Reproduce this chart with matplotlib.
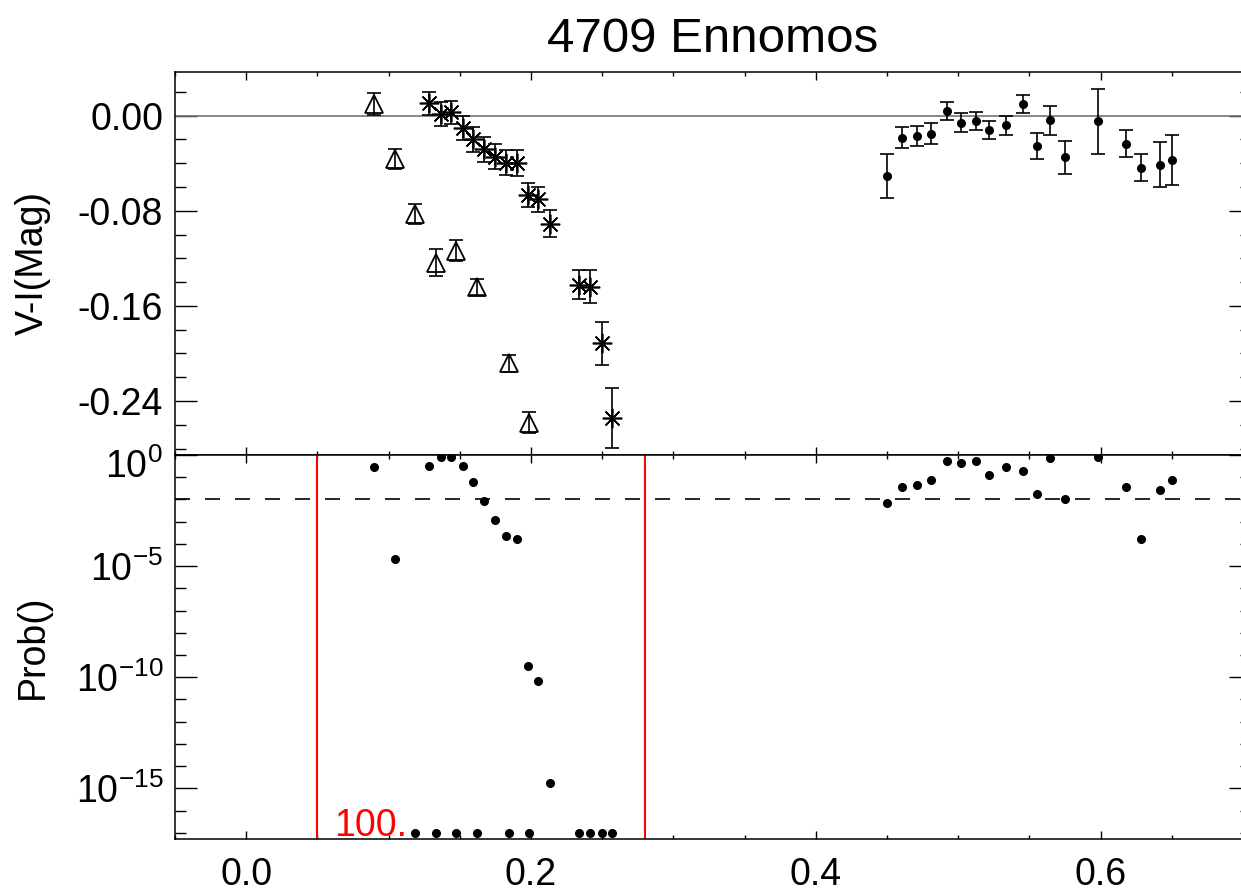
import numpy as np
import matplotlib.pyplot as plt
from matplotlib.ticker import (FixedLocator, MultipleLocator, FuncFormatter,
                               FormatStrFormatter, NullFormatter)

plt.rcParams['font.family'] = ['Liberation Sans', 'DejaVu Sans']
plt.rcParams['mathtext.fontset'] = 'custom'
plt.rcParams['mathtext.rm'] = 'Liberation Sans'
plt.rcParams['mathtext.default'] = 'regular'
plt.rcParams['axes.unicode_minus'] = False

# triangles (open)
tri_phase = [0.0895, 0.1043, 0.1186, 0.1331, 0.1471, 0.1619, 0.1843, 0.1986]
tri_vi = [0.0100, -0.0366, -0.0829, -0.1236, -0.1134, -0.1441, -0.2084, -0.2582]
tri_err = [0.0094, 0.0086, 0.0084, 0.0112, 0.0088, 0.0067, 0.0074, 0.0087]
tri_prob = [0.28, 2.2e-5, 1e-17, 1e-17, 1e-17, 1e-17, 1e-17, 1e-17]

# asterisks
ast_phase = [0.1284, 0.1368, 0.1436, 0.1523, 0.1595, 0.1670, 0.1750, 0.1827,
             0.1900, 0.1977, 0.2052, 0.2131, 0.2340, 0.2417, 0.2496, 0.2571]
ast_vi = [0.0104, 0.0016, 0.0028, -0.0103, -0.0199, -0.0281, -0.0344, -0.0394,
          -0.0399, -0.0667, -0.0702, -0.0909, -0.1420, -0.1438, -0.1914, -0.2545]
ast_err = [0.0098, 0.0102, 0.0098, 0.0101, 0.0104, 0.0105, 0.0107, 0.0108,
           0.0108, 0.0104, 0.0105, 0.0114, 0.0122, 0.0140, 0.0182, 0.0252]
ast_prob = [0.33, 0.84, 0.79, 0.32, 0.059, 8.5e-3, 1.2e-3, 2.3e-4,
            1.7e-4, 3.3e-10, 6.8e-11, 1.8e-15, 1e-17, 1e-17, 1e-17, 1e-17]

# filled dots
dot_phase = [0.4500, 0.4608, 0.4709, 0.4809, 0.4919, 0.5020, 0.5123, 0.5219, 0.5334,
             0.5455, 0.5554, 0.5647, 0.5750, 0.5984, 0.6181, 0.6284, 0.6415, 0.6504]
dot_vi = [-0.0505, -0.0186, -0.0169, -0.0151, 0.0041, -0.0059, -0.0043, -0.0122, -0.0082,
          0.0098, -0.0256, -0.0038, -0.0349, -0.0047, -0.0235, -0.0437, -0.0412, -0.0375]
dot_err = [0.0185, 0.0088, 0.0085, 0.0087, 0.0077, 0.0078, 0.0077, 0.0077, 0.0080,
           0.0078, 0.0111, 0.0122, 0.0139, 0.0275, 0.0112, 0.0115, 0.0188, 0.0210]
dot_prob = [6.8e-3, 0.035, 0.046, 0.072, 0.55, 0.45, 0.55, 0.12, 0.29,
            0.19, 0.018, 0.73, 0.011, 0.84, 0.035, 1.7e-4, 0.028, 0.072]

red_lines = [0.05, 0.28]
prob_cut = 1e-2

fig = plt.figure(figsize=(12.41, 8.92), dpi=100)
ax1 = fig.add_axes([0.141, 0.4899, 0.8671, 0.4297])
ax2 = fig.add_axes([0.141, 0.0591, 0.8671, 0.4308])

ebkw = dict(fmt='none', ecolor='k', elinewidth=1.2, capsize=4.7, capthick=1.2)

# top panel
ax1.axhline(0, color='0.45', lw=1.2)
ax1.errorbar(tri_phase, tri_vi, yerr=tri_err, **ebkw)
ax1.errorbar(ast_phase, ast_vi, yerr=ast_err, **ebkw)
ax1.errorbar(dot_phase, dot_vi, yerr=dot_err, **ebkw)
ax1.plot(tri_phase, tri_vi, '^', ms=13, mfc='none', mec='k', mew=1.3)
ax1.plot(ast_phase, ast_vi, ls='none', marker=(8, 2, 0), ms=14, mec='k', mew=1.2)
ax1.plot(dot_phase, dot_vi, 'o', ms=5.5, color='k')
ax1.set_ylim(-0.2854, 0.0370)
ax1.set_title('4709 Ennomos', fontsize=35.5, pad=14.2)
ax1.set_ylabel('V-I(Mag)', fontsize=27)
ax1.yaxis.set_major_locator(FixedLocator([0.0, -0.08, -0.16, -0.24]))
ax1.yaxis.set_minor_locator(MultipleLocator(0.02))
ax1.yaxis.set_major_formatter(FormatStrFormatter('%.2f'))

# bottom panel
ax2.set_yscale('log')
for xv in red_lines:
    ax2.axvline(xv, color='red', lw=1.5)
ax2.axhline(prob_cut, color='k', lw=1.2, dashes=(9, 9))
ax2.plot(tri_phase, tri_prob, 'o', ms=5.5, color='k')
ax2.plot(ast_phase, ast_prob, 'o', ms=5.5, color='k')
ax2.plot(dot_phase, dot_prob, 'o', ms=5.5, color='k')
ax2.set_ylim(10 ** -17.29, 1)
ax2.set_ylabel('Prob()', fontsize=27)
ax2.yaxis.set_major_locator(FixedLocator([1e-15, 1e-10, 1e-5, 1e0]))
ax2.yaxis.set_minor_locator(FixedLocator([10.0 ** k for k in range(-17, 0)]))
ax2.yaxis.set_major_formatter(FuncFormatter(
    lambda v, p: '' if v >= 1 else '10$^{%d}$' % round(np.log10(v))))
ax2.yaxis.set_minor_formatter(NullFormatter())
ax2.annotate('10$^{0}$', xy=(0, 1), xycoords=('axes fraction', 'data'),
             xytext=(-8.6, -9), textcoords='offset points',
             ha='right', va='center', fontsize=27)
ax2.text(0.062, 0.0086, '100.', color='red', fontsize=27,
         transform=ax2.get_xaxis_transform(), ha='left', va='baseline')

for ax in (ax1, ax2):
    ax.set_xlim(-0.05, 0.7056)
    ax.xaxis.set_major_locator(MultipleLocator(0.2))
    ax.xaxis.set_minor_locator(MultipleLocator(0.05))
    ax.tick_params(which='both', direction='in', top=True, right=True,
                   width=1, labelsize=27)
    ax.tick_params(axis='y', which='major', length=15.8, pad=8.6)
    ax.tick_params(axis='y', which='minor', length=7.9)
    ax.tick_params(axis='x', which='major', length=5.8, pad=12.5)
    ax.tick_params(axis='x', which='minor', length=3.2)
    ax.yaxis.set_label_coords(-0.115, 0.5)
    for s in ax.spines.values():
        s.set_linewidth(1.1)

ax1.tick_params(labelbottom=False)
ax2.xaxis.set_major_formatter(FormatStrFormatter('%.1f'))

fig.savefig('out.png', dpi=100)
